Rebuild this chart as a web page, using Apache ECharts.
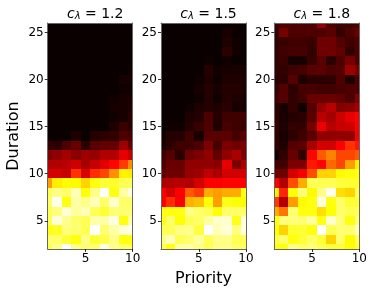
<!DOCTYPE html>
<html><head><meta charset="utf-8">
<style>html,body{margin:0;padding:0;background:#fff}#c{width:374px;height:294px;filter:blur(0.4px)}</style>
<script src="https://cdn.jsdelivr.net/npm/echarts@6/dist/echarts.min.js"></script>
</head><body><div id="c"></div>
<script>
var priorities=[1,2,3,4,5,6,7,8,9,10];
var durations=[26,25,24,23,22,21,20,19,18,17,16,15,14,13,12,11,10,9,8,7,6,5,4,3,2];
var lambdaLabels=['1.2','1.5','1.8'];
var lambda12=[
[0,0,0,0,0,0,0,0,0,0],
[0,0,0,0,0,0,0,0,0,0],
[0,0,0,0,0,0,0,0,0,0],
[0,0,0,0,0,0,0,0,0,0],
[0,0,0,0,0,0,0,0,0,0],
[0,0,0,0,0,0,0,0,0,0.01],
[0,0,0,0,0,0,0,0,0.02,0.02],
[0,0,0,0,0,0,0,0,0.01,0.01],
[0,0,0,0,0,0,0,0.01,0.02,0.02],
[0,0,0,0,0,0,0,0.02,0.02,0.03],
[0,0,0,0,0,0,0,0.01,0.02,0.05],
[0,0,0,0,0,0,0,0.03,0.07,0.05],
[0,0,0,0.03,0,0.04,0.05,0.06,0.1,0.09],
[0.06,0.05,0.1,0.14,0.05,0.12,0.13,0.13,0.22,0.14],
[0.18,0.2,0.23,0.19,0.22,0.21,0.25,0.25,0.33,0.28],
[0.25,0.25,0.26,0.29,0.23,0.28,0.32,0.37,0.45,0.57],
[0.3,0.3,0.28,0.44,0.31,0.43,0.47,0.58,0.73,0.72],
[0.6,0.72,0.74,0.74,0.68,0.76,0.8,0.79,0.83,0.83],
[0.83,0.88,0.85,0.93,0.75,0.88,1,0.76,0.91,0.97],
[0.85,0.98,0.76,0.91,0.88,0.93,0.85,0.95,0.85,0.85],
[0.83,0.87,0.96,0.9,0.93,0.83,0.8,0.86,0.86,0.86],
[0.83,0.96,0.89,0.85,0.83,0.91,0.91,0.97,0.76,0.91],
[0.76,0.78,0.87,0.86,0.83,1,0.86,0.91,0.96,0.97],
[0.85,0.85,0.8,0.76,0.88,0.8,0.82,0.88,0.76,0.76],
[0.83,0.88,1,0.88,0.85,0.86,0.97,0.88,0.85,0.83]];
var lambda15=[
[0,0,0,0,0,0,0,0,0,0],
[0,0,0,0,0,0,0,0.02,0,0],
[0,0,0,0,0,0,0,0.03,0.01,0],
[0,0,0,0,0,0,0,0.05,0.01,0],
[0,0,0,0,0,0.01,0,0.01,0,0],
[0,0,0,0,0,0.04,0.01,0.02,0.02,0.02],
[0,0,0,0,0.01,0.03,0.01,0.03,0.03,0.03],
[0,0,0,0,0.02,0.04,0.02,0.04,0.04,0.03],
[0,0,0,0,0.01,0.04,0.01,0.04,0.03,0.02],
[0,0,0,0.01,0.03,0.04,0.03,0.05,0.02,0.02],
[0,0,0,0.03,0.04,0.1,0.04,0.08,0.08,0.08],
[0,0.01,0.01,0.04,0.07,0.1,0.03,0.09,0.08,0.07],
[0.01,0.04,0.04,0.08,0.02,0.12,0.12,0.12,0.09,0.12],
[0.02,0.05,0.08,0.08,0.1,0.17,0.09,0.17,0.15,0.17],
[0.08,0.11,0.05,0.15,0.17,0.2,0.13,0.2,0.24,0.17],
[0.1,0.14,0.14,0.2,0.2,0.2,0.19,0.33,0.17,0.24],
[0.13,0.15,0.15,0.21,0.22,0.27,0.24,0.3,0.3,0.3],
[0.24,0.25,0.26,0.25,0.3,0.36,0.36,0.37,0.37,0.36],
[0.36,0.3,0.36,0.5,0.45,0.62,0.6,0.62,0.62,0.76],
[0.36,0.43,0.36,0.63,0.65,0.75,0.6,0.77,0.75,0.74],
[0.77,0.76,0.76,0.88,0.85,0.83,0.75,0.85,0.85,0.85],
[0.77,0.85,0.75,0.83,0.85,0.9,0.95,0.95,0.77,0.97],
[0.83,0.83,0.88,0.88,0.81,1,0.93,0.96,0.87,0.97],
[0.88,0.93,0.83,0.86,0.9,0.83,0.88,0.88,0.83,0.83],
[0.83,0.76,0.91,0.91,0.88,0.83,0.88,0.88,0.85,0.83]];
var lambda18=[
[0.08,0.1,0.1,0.1,0.1,0.2,0.1,0.08,0.08,0.1],
[0.06,0.16,0.1,0.1,0.1,0.1,0.12,0.06,0.1,0.14],
[0.06,0.07,0.08,0.08,0.07,0.15,0.15,0.11,0.08,0.1],
[0.06,0.08,0.09,0.09,0.06,0.15,0.15,0.13,0.06,0.1],
[0.06,0.07,0.02,0.02,0.07,0.12,0.05,0.1,0.16,0.1],
[0.06,0.06,0.08,0.09,0.12,0.12,0.1,0.11,0.22,0.16],
[0.05,0.05,0.11,0.03,0.05,0.05,0.05,0.1,0.03,0.1],
[0.07,0.11,0.05,0.09,0.09,0.08,0.08,0.09,0.1,0.1],
[0.08,0.11,0.06,0.08,0.14,0.14,0.14,0.13,0.1,0.18],
[0.06,0.02,0.06,0.01,0.11,0.21,0.26,0.18,0.19,0.23],
[0.06,0.02,0.04,0.05,0.12,0.26,0.23,0.29,0.33,0.36],
[0.07,0.03,0.06,0.06,0.16,0.34,0.26,0.28,0.29,0.36],
[0.06,0.02,0.05,0.08,0.12,0.2,0.2,0.2,0.2,0.35],
[0.06,0.03,0.11,0.12,0.24,0.3,0.3,0.36,0.44,0.4],
[0.01,0.06,0.14,0.06,0.37,0.5,0.56,0.47,0.47,0.5],
[0.08,0.08,0.17,0.17,0.4,0.37,0.52,0.47,0.6,0.72],
[0.15,0.15,0.3,0.35,0.48,0.68,0.68,0.74,0.76,0.76],
[0.36,0.25,0.48,0.62,0.83,0.83,0.83,0.81,0.8,0.78],
[0.72,0.42,0.75,0.87,0.74,0.88,0.98,0.7,0.68,0.83],
[0.45,0.25,0.6,0.74,0.76,0.97,0.76,0.85,0.8,0.8],
[0.62,0.54,0.86,0.76,0.76,0.7,0.75,0.85,0.83,0.83],
[0.76,0.87,0.87,0.86,0.9,0.76,0.95,0.87,0.76,0.87],
[0.75,0.68,0.79,0.8,0.76,1,0.83,0.86,0.86,0.93],
[0.8,0.85,0.76,0.8,0.85,0.8,0.68,0.85,0.74,0.83],
[0.76,0.76,0.88,0.85,0.86,0.83,0.8,0.8,0.75,0.8]];
var panels=[lambda12,lambda15,lambda18];
var xTicks=[5,10], yTicks=[5,10,15,20,25];
var gridLefts=[47.7,161,274.3], gridW=85, gridTop=23, gridH=226;
var FONT='DejaVu Sans', INK='#000', SPINE='#666';

function hot(v){
  var r=Math.min(1,0.0416+v/0.365*0.9584),
      g=Math.max(0,Math.min(1,(v-0.365)/0.381)),
      b=Math.max(0,Math.min(1,(v-0.746)/0.254));
  return 'rgb('+Math.round(r*255)+','+Math.round(g*255)+','+Math.round(b*255)+')';
}
function renderCell(params,api){
  var x=api.value(0),y=api.value(1),c=hot(api.value(2));
  var a=api.coord([x-0.5,y+0.5]),b=api.coord([x+0.5,y-0.5]);
  var x0=Math.round(a[0]),y0=Math.round(a[1]),x1=Math.round(b[0]),y1=Math.round(b[1]);
  var r=echarts.graphic.clipRectByRect({x:x0,y:y0,width:x1-x0,height:y1-y0},params.coordSys);
  return r&&{type:'rect',shape:r,style:{fill:c}};
}
var grids=[],xAxes=[],yAxes=[],series=[],titles=[];
panels.forEach(function(rows,i){
  grids.push({left:gridLefts[i],top:gridTop,width:gridW,height:gridH,containLabel:false});
  var base={type:'value',gridIndex:i,z:5};
  xAxes.push(Object.assign({},base,{position:'bottom',min:1,max:10,
    name:i===1?'Priority':'',nameLocation:'middle',nameGap:22,
    nameTextStyle:{fontFamily:FONT,fontSize:16,color:INK},
    axisLine:{show:true,onZero:false,lineStyle:{color:SPINE,width:1}},
    axisTick:{show:true,length:3,customValues:xTicks,lineStyle:{color:INK,width:0.8}},
    axisLabel:{show:true,customValues:xTicks,fontFamily:FONT,fontSize:12,color:INK,margin:4,hideOverlap:false,showMinLabel:true,showMaxLabel:true},
    splitLine:{show:false}}));
  xAxes.push(Object.assign({},base,{position:'top',min:1,max:10,
    axisLine:{show:true,onZero:false,lineStyle:{color:SPINE,width:1}},
    axisTick:{show:false},axisLabel:{show:false},splitLine:{show:false}}));
  yAxes.push(Object.assign({},base,{position:'left',min:2,max:26,
    name:i===0?'Duration':'',nameLocation:'middle',nameGap:26,nameRotate:90,
    nameTextStyle:{fontFamily:FONT,fontSize:16,color:INK},
    axisLine:{show:true,onZero:false,lineStyle:{color:SPINE,width:1}},
    axisTick:{show:true,length:3,customValues:yTicks,lineStyle:{color:INK,width:0.8}},
    axisLabel:{show:true,customValues:yTicks,fontFamily:FONT,fontSize:12,color:INK,margin:4,showMinLabel:true,showMaxLabel:true},
    splitLine:{show:false}}));
  yAxes.push(Object.assign({},base,{position:'right',min:2,max:26,
    axisLine:{show:true,onZero:false,lineStyle:{color:SPINE,width:1}},
    axisTick:{show:false},axisLabel:{show:false},splitLine:{show:false}}));
  var data=[];
  rows.forEach(function(row,r){row.forEach(function(v,c){data.push([priorities[c],durations[r],v]);});});
  series.push({type:'custom',xAxisIndex:i*2,yAxisIndex:i*2,renderItem:renderCell,data:data,
    encode:{x:0,y:1},silent:true,animation:false,z:2,clip:true});
  titles.push({left:gridLefts[i]+gridW/2,top:2,textAlign:'center',
    text:'{c|c}{s|λ}{t| = '+lambdaLabels[i]+'}',
    textStyle:{fontWeight:'normal',rich:{
      c:{fontFamily:FONT,fontStyle:'italic',fontWeight:'normal',fontSize:14,color:INK,lineHeight:15},
      s:{fontFamily:FONT,fontStyle:'italic',fontWeight:'normal',fontSize:10,color:INK,lineHeight:15,padding:[4,0,0,0]},
      t:{fontFamily:FONT,fontWeight:'normal',fontSize:14,color:INK,lineHeight:15}}}});
});
var chart=echarts.init(document.getElementById('c'),null,{renderer:'canvas'});
chart.setOption({animation:false,backgroundColor:'#fff',title:titles,grid:grids,xAxis:xAxes,yAxis:yAxes,series:series});
</script></body></html>
